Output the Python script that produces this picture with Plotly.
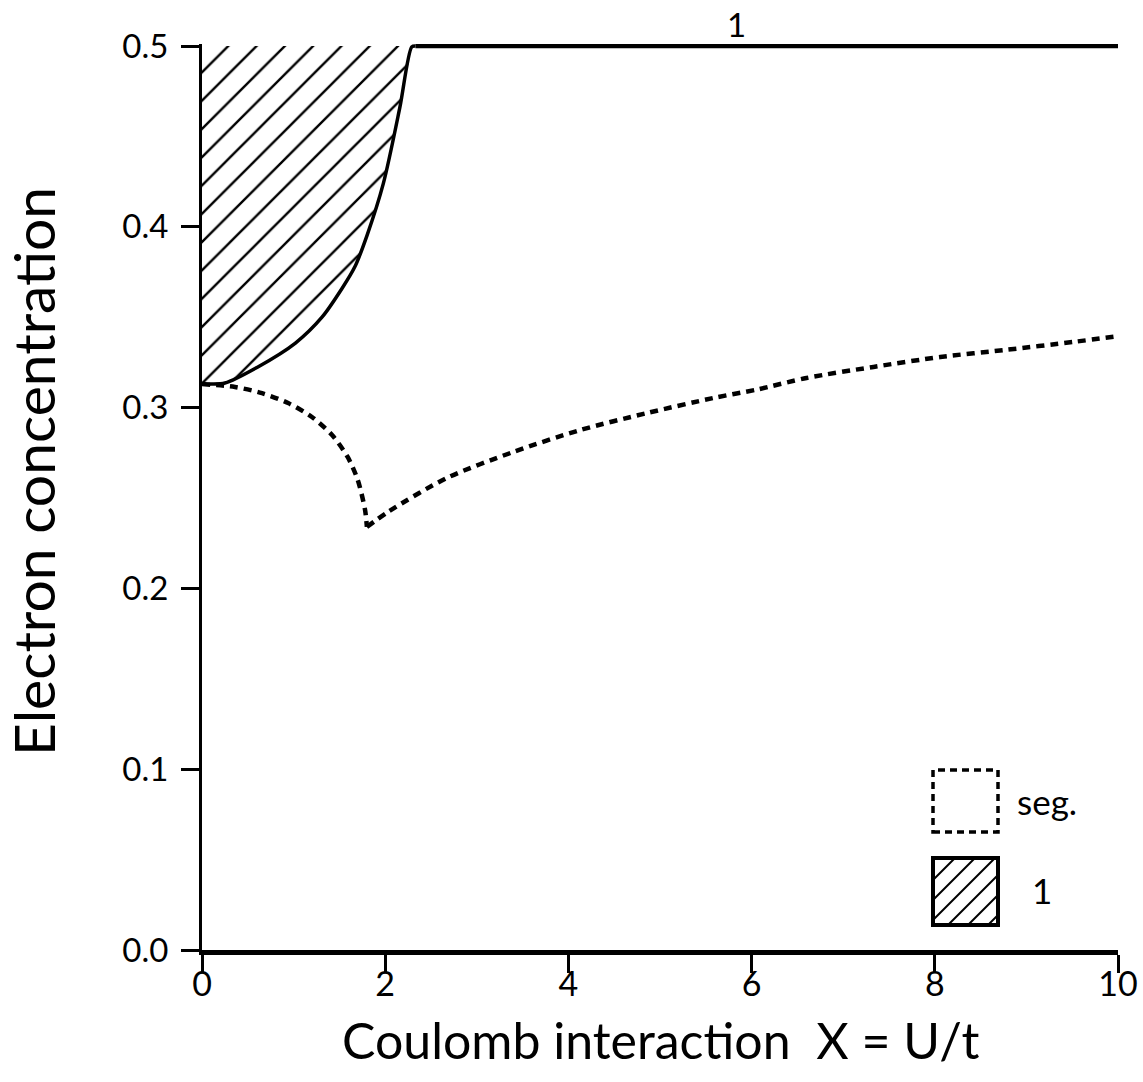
import plotly.graph_objects as go

# ---- data ----
# boundary of phase "1" (solid curve)
bound_x = [0.0, 0.10, 0.25, 0.61, 1.02, 1.31, 1.53, 1.67, 1.80, 1.98, 2.16, 2.29, 2.33]
bound_y = [0.313, 0.313, 0.3136, 0.3225, 0.3357, 0.350, 0.366, 0.378, 0.395, 0.424, 0.466, 0.4995, 0.5]
# top boundary line at n = 0.5
top_x = [2.33, 10.0]
top_y = [0.5, 0.5]

# segregation boundary (dashed curve): falling branch and rising branch
segA_x = [0.0, 0.36, 0.655, 0.94, 1.20, 1.42, 1.59, 1.70, 1.78, 1.80]
segA_y = [0.313, 0.3114, 0.308, 0.3025, 0.2948, 0.2848, 0.2727, 0.260, 0.2434, 0.234]
segB_x = [1.80, 2.03, 2.67, 3.40, 4.13, 4.86, 5.58, 6.06, 6.60, 7.33, 8.06, 8.79, 9.51, 10.0]
segB_y = [0.234, 0.2423, 0.261, 0.2755, 0.2876, 0.297, 0.3053, 0.3100, 0.3164, 0.3225, 0.328, 0.332, 0.3363, 0.3395]

x_ticks = [0, 2, 4, 6, 8, 10]
y_ticks = [0.0, 0.1, 0.2, 0.3, 0.4, 0.5]

FONT = "Lato"

fig = go.Figure()

# hatched region of phase 1 (between y-axis, curve and top 0.5)
fill_x = bound_x + [0.0]
fill_y = bound_y + [0.5]
fig.add_trace(go.Scatter(
    x=fill_x, y=fill_y, mode="lines", fill="toself",
    fillcolor="white",
    fillpattern=dict(shape="/", size=20, solidity=0.12, fgcolor="black",
                     bgcolor="white", fgopacity=1),
    line=dict(width=0), showlegend=False, hoverinfo="skip"))

fig.add_trace(go.Scatter(x=bound_x, y=bound_y, mode="lines",
                         line=dict(color="black", width=3.5, shape="spline", smoothing=0.8),
                         showlegend=False))
fig.add_trace(go.Scatter(x=top_x, y=top_y, mode="lines",
                         line=dict(color="black", width=4.5), showlegend=False))
for sx, sy in ((segA_x, segA_y), (segB_x, segB_y)):
    fig.add_trace(go.Scatter(x=sx, y=sy, mode="lines",
                             line=dict(color="black", width=4.5, dash="8px,6px",
                                       shape="spline", smoothing=0.8),
                             showlegend=False))

W, H = 1143, 1082
L, R, T, B = 202, 25, 44, 132
PW, PH = W - L - R, H - T - B
Y_TOP = 0.5 + 2.0 / 1808.0   # a hair above 0.5 so the top line is not clipped


def px(xp):
    return (xp - L) / PW


def py(yp):
    return (H - B - yp) / PH


shapes = []
# legend: dashed box (seg.)
shapes.append(dict(type="rect", xref="paper", yref="paper",
                   x0=px(933), x1=px(998), y0=py(832), y1=py(770),
                   line=dict(color="black", width=3.5, dash="7px,5px")))
# legend: hatched box (1)
bx0, bx1, by0, by1 = 933, 998, 858, 925
step = 20
for k in range(-4, 5):
    c = by1 + k * step - 5
    pts = []
    for xp in (bx0, bx1):
        yp = c - (xp - bx0)
        if by0 <= yp <= by1:
            pts.append((xp, yp))
    for yp in (by0, by1):
        xp = bx0 + (c - yp)
        if bx0 <= xp <= bx1:
            pts.append((xp, yp))
    pts = sorted(set(pts))
    if len(pts) >= 2 and (abs(pts[0][0] - pts[-1][0]) > 2):
        shapes.append(dict(type="line", xref="paper", yref="paper",
                           x0=px(pts[0][0]), y0=py(pts[0][1]),
                           x1=px(pts[-1][0]), y1=py(pts[-1][1]),
                           line=dict(color="black", width=2)))
shapes.append(dict(type="rect", xref="paper", yref="paper",
                   x0=px(bx0), x1=px(bx1), y0=py(by1), y1=py(by0),
                   line=dict(color="black", width=4)))

annotations = [
    dict(text="seg.", xref="paper", yref="paper", x=px(1015), y=py(801),
         xanchor="left", yanchor="middle", showarrow=False,
         font=dict(family=FONT, size=35, color="black")),
    dict(text="1", xref="paper", yref="paper", x=px(1030), y=py(890),
         xanchor="left", yanchor="middle", showarrow=False,
         font=dict(family=FONT, size=35, color="black")),
    dict(text="1", xref="x", yref="paper", x=5.84, y=py(24),
         xanchor="center", yanchor="middle", showarrow=False,
         font=dict(family=FONT, size=33, color="black")),
    dict(text="Coulomb interaction  X = U/t", xref="paper", yref="paper",
         x=px(660), y=py(1040), xanchor="center", yanchor="middle", showarrow=False,
         font=dict(family=FONT, size=50, color="black")),
    dict(text="Electron concentration", xref="paper", yref="paper",
         x=px(33), y=py(472), xanchor="center", yanchor="middle", showarrow=False,
         textangle=-90, font=dict(family=FONT, size=57, color="black")),
]

fig.update_layout(
    width=W, height=H, autosize=False,
    margin=dict(l=L, r=R, t=T, b=B, autoexpand=False),
    plot_bgcolor="white", paper_bgcolor="white",
    shapes=shapes, annotations=annotations,
    xaxis=dict(range=[0, 10], tickvals=x_ticks, ticktext=[str(v) for v in x_ticks],
               automargin=False,
               showgrid=False, zeroline=False, showline=True, linecolor="black",
               linewidth=5, ticks="outside", ticklen=18, tickwidth=2.5,
               ticklabelstandoff=-18,
               tickcolor="black", tickfont=dict(family=FONT, size=34, color="black")),
    yaxis=dict(range=[0, Y_TOP], tickvals=y_ticks, ticktext=[f"{v:.1f}" for v in y_ticks],
               automargin=False,
               showgrid=False, zeroline=False, showline=True, linecolor="black",
               linewidth=3, ticks="outside", ticklen=18, tickwidth=2.5,
               ticklabelstandoff=6,
               tickcolor="black", tickfont=dict(family=FONT, size=33, color="black")),
)

fig.write_html(
    "out.html",
    config={"displayModeBar": False, "responsive": False},
    post_script=("document.body.style.margin='0';document.body.style.overflow='hidden';"),
)
